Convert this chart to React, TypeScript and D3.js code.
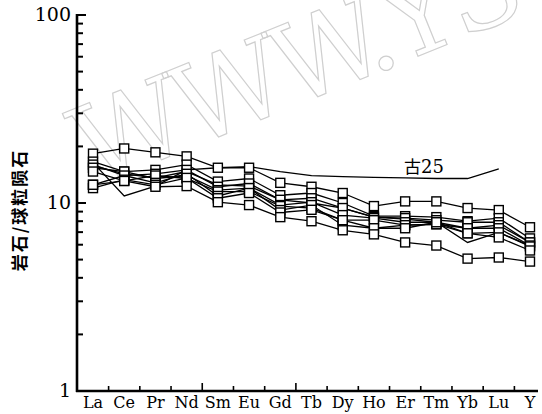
import React from 'react';
import * as d3 from 'd3';

const elements = ['La', 'Ce', 'Pr', 'Nd', 'Sm', 'Eu', 'Gd', 'Tb', 'Dy', 'Ho', 'Er', 'Tm', 'Yb', 'Lu', 'Y'];
const yTicks = [1, 10, 100];

// chondrite-normalised samples with square markers
const s1 = [18.3, 19.5, 18.6, 17.7, 15.4, 15.4, 12.8, 12.2, 11.3, 9.63, 10.2, 10.2, 9.4, 9.17, 7.43];
const s2 = [16.6, 14.7, 15.0, 16.0, 13.0, 13.5, 11.0, 11.3, 10.0, 8.51, 8.51, 8.41, 8.0, 8.31, 6.48];
const s3 = [16.0, 14.0, 14.3, 15.0, 12.2, 12.7, 10.4, 10.6, 9.4, 8.41, 8.31, 8.1, 7.9, 7.9, 6.17];
const s4 = [15.4, 14.7, 13.5, 14.0, 11.7, 12.0, 9.75, 10.1, 8.62, 8.31, 7.9, 7.9, 7.34, 7.62, 6.17];
const s5 = [14.7, 13.1, 14.0, 13.5, 11.5, 11.5, 9.63, 9.4, 8.1, 8.1, 7.62, 7.71, 7.34, 7.34, 5.94];
const s6 = [12.5, 14.0, 12.8, 14.3, 10.9, 12.0, 9.17, 9.75, 7.62, 7.34, 7.62, 7.71, 6.9, 6.98, 5.87];
const s7 = [12.0, 13.3, 12.5, 13.6, 10.6, 11.3, 8.9, 9.2, 8.1, 7.34, 7.34, 7.9, 6.9, 6.56, 5.59];
const s8 = [12.5, 13.1, 12.2, 12.3, 10.1, 9.75, 8.41, 8.0, 7.16, 6.81, 6.17, 5.94, 5.06, 5.13, 4.88];
const markedSeries = [s1, s2, s3, s4, s5, s6, s7, s8];

// lines without markers
const gu25 = [16.4, 10.9, 12.3, 15.0, 15.4, 15.6, 14.7, 14.0, 13.8, 13.7, 13.6, 13.5, 13.5, 15.2];
const plain = [15.8, 14.3, 13.6, 14.7, 12.5, 12.3, 10.4, 10.0, 9.4, 8.41, 8.2, 7.9, 6.17, 6.98, 5.94];
const plainSeries = [gu25, plain];

const W = 542;
const H = 414;
const axisX = 77;
const axisY = 391;

const serif = 'DejaVu Serif';
const cjk = 'Noto Sans CJK SC';

export default function App() {
  const x = d3.scalePoint<string>().domain(elements).range([93, 530]);
  const y = d3.scaleLog().domain([1, 100]).range([391, 15]);
  const step = x.step();

  const line = d3
    .line<number>()
    .x((_, i) => x(elements[i]) as number)
    .y((d) => y(d));

  const minorY: number[] = [];
  for (const base of [1, 10]) {
    for (let k = 2; k <= 9; k++) minorY.push(base * k);
  }

  const midTicks = elements.slice(0, -1).map((e) => (x(e) as number) + step / 2);

  return (
    <svg width={W} height={H} style={{ position: 'absolute', left: 0, top: 0, background: '#fff' }}>
      {/* watermark */}
      <text
        x={92}
        y={188}
        transform="rotate(-22 92 188)"
        fontFamily={serif}
        fontSize={110}
        fill="none"
        stroke="#cfcfcf"
        strokeWidth={1.2}
        letterSpacing={-6}
      >
        WWW.YS
      </text>

      {/* series lines */}
      {plainSeries.map((s, i) => (
        <path key={'p' + i} d={line(s) || ''} fill="none" stroke="#000" strokeWidth={1.3} />
      ))}
      {markedSeries.map((s, i) => (
        <path key={'m' + i} d={line(s) || ''} fill="none" stroke="#000" strokeWidth={1.3} />
      ))}
      {markedSeries.map((s, i) =>
        s.map((v, j) => (
          <rect
            key={`r${i}-${j}`}
            x={(x(elements[j]) as number) - 4.5}
            y={y(v) - 4.5}
            width={9}
            height={9}
            fill="#fff"
            stroke="#000"
            strokeWidth={1.4}
          />
        ))
      )}

      <text x={404} y={173} fontFamily={serif} fontSize={18}>
        <tspan fontFamily={cjk} fontSize={17}>古</tspan>25
      </text>

      {/* y axis */}
      <line x1={axisX} x2={axisX} y1={14} y2={axisY + 1} stroke="#000" strokeWidth={2.6} />
      {yTicks.map((t) => (
        <g key={'yt' + t}>
          <line x1={axisX} x2={axisX + 9} y1={y(t)} y2={y(t)} stroke="#000" strokeWidth={2} />
          <text x={71} y={y(t) + 6} textAnchor="end" fontFamily={serif} fontSize={19}>
            {t}
          </text>
        </g>
      ))}
      {minorY.map((t) => (
        <line key={'ym' + t} x1={axisX} x2={axisX + 6} y1={y(t)} y2={y(t)} stroke="#000" strokeWidth={2} />
      ))}

      {/* x axis */}
      <line x1={axisX - 1} x2={W - 4} y1={axisY} y2={axisY} stroke="#000" strokeWidth={2.6} />
      {midTicks.map((t, i) => (
        <line
          key={'xt' + i}
          x1={t}
          x2={t}
          y1={axisY}
          y2={axisY - (i === 3 || i === 6 ? 8 : 5)}
          stroke="#000"
          strokeWidth={1.6}
        />
      ))}
      {elements.map((e) => (
        <text key={e} x={x(e) as number} y={408} textAnchor="middle" fontFamily={serif} fontSize={16}>
          {e}
        </text>
      ))}

      <text
        transform="translate(26 210) rotate(-90)"
        textAnchor="middle"
        fontFamily={cjk}
        fontSize={17}
        fontWeight="bold"
        letterSpacing={2}
      >
        岩石/球粒陨石
      </text>
    </svg>
  );
}
